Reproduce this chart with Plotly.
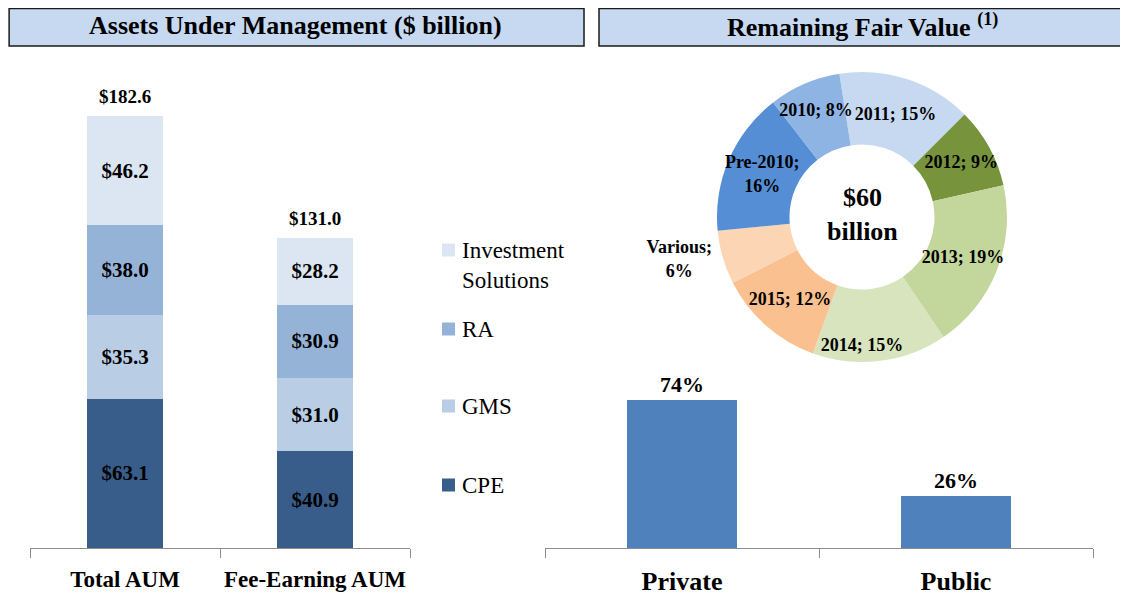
import plotly.graph_objects as go

# The page body adds an 8px margin, so the figure is 8px smaller than the window
# and all reference pixel positions are shifted by 8px.
OFF = 8
W, H = 1128 - OFF, 598 - OFF
FONT = "Liberation Serif"

# ---- Data ----
aum_categories = ["Total AUM", "Fee-Earning AUM"]
cpe = [63.1, 40.9]
gms = [35.3, 31.0]
ra = [38.0, 30.9]
inv_sol = [46.2, 28.2]
aum_series = [("CPE", cpe, "#385D8A"), ("GMS", gms, "#B9CDE5"),
              ("RA", ra, "#95B3D7"), ("Investment<br>Solutions", inv_sol, "#DCE6F2")]

pie_labels = ["2011", "2012", "2013", "2014", "2015", "Various", "Pre-2010", "2010"]
pie_values = [15, 9, 19, 15, 12, 6, 16, 8]
pie_colors = ["#C6D9F1", "#77933C", "#C3D69B", "#D7E4BD", "#FAC090", "#FCD5B5", "#558ED5", "#8EB4E3"]

pp_categories = ["Private", "Public"]
pp_values = [74, 26]

totals = [round(sum(v), 1) for v in zip(cpe, gms, ra, inv_sol)]


def px_x(p):
    return max(0.0, (p - OFF) / W)


def px_y(p):
    return min(1.0, 1 - (p - OFF) / H)


fig = go.Figure()

# ---- Stacked AUM bars ----
for name, vals, col in aum_series:
    fig.add_trace(go.Bar(
        x=aum_categories, y=vals, name=name, marker=dict(color=col, line=dict(width=0)),
        width=0.4, texttemplate="<b>$%{y:.1f}</b>", textposition="inside",
        insidetextanchor="middle", textangle=0,
        textfont=dict(family=FONT, size=21, color="black"),
        xaxis="x", yaxis="y", showlegend=False, hoverinfo="skip"))

fig.add_trace(go.Scatter(
    x=aum_categories, y=totals, mode="markers+text",
    marker=dict(size=12, color="rgba(0,0,0,0)"),
    text=[f"<b>${t:.1f}</b>" for t in totals], textposition="top center",
    textfont=dict(family=FONT, size=19, color="black"),
    xaxis="x", yaxis="y", showlegend=False, hoverinfo="skip", cliponaxis=False))

# ---- Private / Public bars ----
fig.add_trace(go.Bar(
    x=pp_categories, y=pp_values, marker=dict(color="#4F81BD", line=dict(width=0)),
    width=0.4, text=[f"<b>{v}%</b>" for v in pp_values], textposition="outside",
    textfont=dict(family=FONT, size=22, color="black"), cliponaxis=False,
    xaxis="x2", yaxis="y2", showlegend=False, hoverinfo="skip"))

# ---- Donut ----
pie_text = []
for l, v in zip(pie_labels, pie_values):
    if l in ("Pre-2010", "Various"):
        pie_text.append(f"<b>{l};<br>{v}%</b>")
    else:
        pie_text.append(f"<b>{l}; {v}%</b>")

fig.add_trace(go.Pie(
    labels=pie_labels, values=pie_values, text=pie_text, textinfo="text",
    sort=False, direction="clockwise", rotation=-9, hole=0.5,
    marker=dict(colors=pie_colors, line=dict(width=0)),
    textposition=["outside" if l == "Various" else "inside" for l in pie_labels],
    insidetextorientation="horizontal",
    textfont=dict(family=FONT, size=18, color="black"),
    domain=dict(x=[px_x(717), px_x(1007)], y=[px_y(362), px_y(72)]),
    showlegend=False, hoverinfo="skip"))

layout_shapes = [
    dict(type="rect", xref="paper", yref="paper", x0=0.001, x1=px_x(584), y0=px_y(46), y1=0.999,
         fillcolor="#C6D9F1", line=dict(color="#1a1a1a", width=1.5), layer="below"),
    dict(type="rect", xref="paper", yref="paper", x0=px_x(599), x1=px_x(1124), y0=px_y(46), y1=0.999,
         fillcolor="#C6D9F1", line=dict(color="#1a1a1a", width=1.5), layer="below"),
]

annotations = [
    dict(x=px_x(295), y=px_y(26), xref="paper", yref="paper", showarrow=False,
         xanchor="center", yanchor="middle",
         text="<b>Assets Under Management ($ billion)</b>",
         font=dict(family=FONT, size=26, color="black")),
    dict(x=px_x(862), y=px_y(26), xref="paper", yref="paper", showarrow=False,
         xanchor="center", yanchor="middle",
         text="<b>Remaining Fair Value <sup>(1)</sup></b>",
         font=dict(family=FONT, size=26, color="black")),
    dict(x=px_x(862), y=px_y(214), xref="paper", yref="paper", showarrow=False,
         xanchor="center", yanchor="middle",
         text="<b>$60<br>billion</b>", font=dict(family=FONT, size=26, color="black")),
]

# ---- Custom legend ----
legend_rows = [("Investment<br>Solutions", "#DCE6F2", 250, 265),
               ("RA", "#95B3D7", 329, 329),
               ("GMS", "#B9CDE5", 406, 406),
               ("CPE", "#385D8A", 485, 485)]
for txt, col, ysq, ytxt in legend_rows:
    layout_shapes.append(dict(type="rect", xref="paper", yref="paper",
                              x0=px_x(442), x1=px_x(455), y0=px_y(ysq + 6.5), y1=px_y(ysq - 6.5),
                              fillcolor=col, line=dict(width=0)))
    annotations.append(dict(x=px_x(460), y=px_y(ytxt), xref="paper", yref="paper",
                            xanchor="left", yanchor="middle", align="left", showarrow=False,
                            text=txt, font=dict(family=FONT, size=23, color="black")))

fig.update_layout(
    width=W, height=H, autosize=False, margin=dict(l=0, r=0, t=0, b=0),
    paper_bgcolor="white", plot_bgcolor="white",
    barmode="stack", showlegend=False,
    font=dict(family=FONT, color="black"),
    uniformtext=dict(minsize=18, mode="show"),
    xaxis=dict(domain=[px_x(30), px_x(410)], range=[-0.5, 1.5], showline=True,
               linecolor="#8C8C8C", linewidth=1.2, ticks="outside", tickson="boundaries",
               ticklen=9, tickcolor="#8C8C8C", showgrid=False, zeroline=False, tickangle=0,
               tickfont=dict(family=FONT, size=23, color="black"), ticklabelstandoff=10,
               tickvals=aum_categories, ticktext=[f"<b>{c}</b>" for c in aum_categories]),
    yaxis=dict(domain=[px_y(548), px_y(85)], range=[0, 463 / (432 / 182.6)], visible=False),
    xaxis2=dict(domain=[px_x(545), px_x(1093)], range=[-0.5, 1.5], showline=True,
                linecolor="#8C8C8C", linewidth=1.2, ticks="outside", tickson="boundaries",
                ticklen=9, tickcolor="#8C8C8C", showgrid=False, zeroline=False, tickangle=0,
                tickfont=dict(family=FONT, size=26, color="black"), ticklabelstandoff=10,
                tickvals=pp_categories, ticktext=[f"<b>{c}</b>" for c in pp_categories],
                anchor="y2"),
    yaxis2=dict(domain=[px_y(548), px_y(378)], range=[0, 85], visible=False, anchor="x2"),
    shapes=layout_shapes, annotations=annotations,
)

fig.write_html("out.html", config={"displayModeBar": False})
